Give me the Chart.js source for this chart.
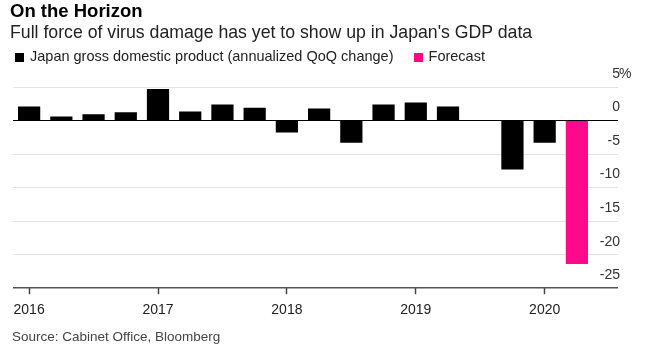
<!DOCTYPE html>
<html>
<head>
<meta charset="utf-8">
<script src="https://cdn.jsdelivr.net/npm/chart.js@4"></script>
<style>
  body { margin: 0; background: #fff; font-family: "Liberation Sans", Arial, sans-serif; color: #000; }
  #wrap { position: relative; width: 646px; height: 348px; overflow: hidden; }
  #perf-chart { position: absolute; left: 0; top: 0; }
  .txt { position: absolute; white-space: nowrap; }
  #title { left: 10px; top: 0px; font-size: 18.5px; font-weight: bold; line-height: 22px; }
  #subtitle { left: 10px; top: 22px; font-size: 17.7px; line-height: 20px; color: #222; }
  #legend { left: 15px; top: 47px; font-size: 14.5px; line-height: 18px; color: #222; }
  #legend span.box { display: inline-block; width: 9px; height: 9px; margin-right: 6px; vertical-align: -1px; }
  #source { left: 12px; top: 329px; font-size: 13.5px; line-height: 16px; color: #444; }
</style>
</head>
<body>
<div id="wrap">
  <canvas id="perf-chart" width="646" height="348"></canvas>
  <div class="txt" id="title">On the Horizon</div>
  <div class="txt" id="subtitle">Full force of virus damage has yet to show up in Japan's GDP data</div>
  <div class="txt" id="legend">
    <span class="box" style="background:#000"></span>Japan gross domestic product (annualized QoQ change)
    <span class="box" style="background:#ff0a8c;margin-left:16px"></span>Forecast
  </div>
  <div class="txt" id="source">Source: Cabinet Office, Bloomberg</div>
</div>
<script>
const quarters = [
  "2016 Q1", "2016 Q2", "2016 Q3", "2016 Q4",
  "2017 Q1", "2017 Q2", "2017 Q3", "2017 Q4",
  "2018 Q1", "2018 Q2", "2018 Q3", "2018 Q4",
  "2019 Q1", "2019 Q2", "2019 Q3", "2019 Q4",
  "2020 Q1", "2020 Q2",
];
const gdpActual = [
  2.1, 0.6, 0.95, 1.25,
  4.7, 1.35, 2.4, 1.9,
  -1.8, 1.8, -3.3, 2.4,
  2.7, 2.1, 0, -7.3,
  -3.3, null,
];
const gdpForecast = [
  null, null, null, null,
  null, null, null, null,
  null, null, null, null,
  null, null, null, null,
  null, -21.4,
];
const yTickValues = [5, 0, -5, -10, -15, -20, -25];

// y labels sit just above their grid lines, "%" only on the top one
const yLabelPlugin = {
  id: "yLabels",
  afterDraw(chart) {
    const ctx = chart.ctx;
    const y = chart.scales.y;
    ctx.save();
    ctx.font = '14px "Liberation Sans", Arial, sans-serif';
    ctx.fillStyle = "#333";
    ctx.textBaseline = "middle";
    yTickValues.forEach(function (v, i) {
      const py = y.getPixelForValue(v) - 13;
      ctx.textAlign = "right";
      ctx.fillText(String(v), 620, py);
      if (i === 0) {
        ctx.textAlign = "left";
        ctx.fillText("%", 619, py);
      }
    });
    ctx.restore();
  },
};

function drawChart() {
  const ctx = document.getElementById("perf-chart");
  const myChart = new Chart(ctx, {
    type: "bar",
    data: {
      labels: quarters,
      datasets: [
        {
          label: "Japan gross domestic product (annualized QoQ change)",
          data: gdpActual,
          backgroundColor: "#000",
          grouped: false,
        },
        {
          label: "Forecast",
          data: gdpForecast,
          backgroundColor: "#ff0a8c",
          grouped: false,
        },
      ],
    },
    options: {
      responsive: false,
      animation: false,
      layout: {
        padding: { top: 87, right: 28, bottom: 21, left: 13 },
      },
      datasets: {
        bar: { categoryPercentage: 1, barPercentage: 0.69 },
      },
      plugins: {
        legend: { display: false },
        tooltip: { enabled: false },
      },
      scales: {
        x: {
          offset: true,
          border: { display: false },
          grid: {
            offset: false,
            drawOnChartArea: false,
            drawTicks: true,
            tickLength: 6,
            tickColor: function (c) {
              return c.index % 4 === 0 ? "#444" : "rgba(0,0,0,0)";
            },
            tickWidth: 1.5,
          },
          ticks: {
            autoSkip: false,
            maxRotation: 0,
            padding: 8,
            color: "#222",
            font: { family: '"Liberation Sans", Arial, sans-serif', size: 14 },
            callback: function (val, i) {
              return i % 4 === 0 ? quarters[i].slice(0, 4) : "";
            },
          },
        },
        y: {
          position: "right",
          min: -25,
          max: 5,
          border: { display: false },
          ticks: { display: false, stepSize: 5 },
          grid: {
            drawTicks: true,
            tickLength: 25,
            color: function (c) {
              if (c.tick.value === 0) return "#000";
              if (c.tick.value === -25) return "#555";
              return "#e3e3e3";
            },
            lineWidth: function (c) {
              return c.tick.value === -25 ? 1.5 : 1;
            },
          },
        },
      },
    },
    plugins: [yLabelPlugin],
  });
  return myChart;
}

drawChart();
</script>
</body>
</html>
